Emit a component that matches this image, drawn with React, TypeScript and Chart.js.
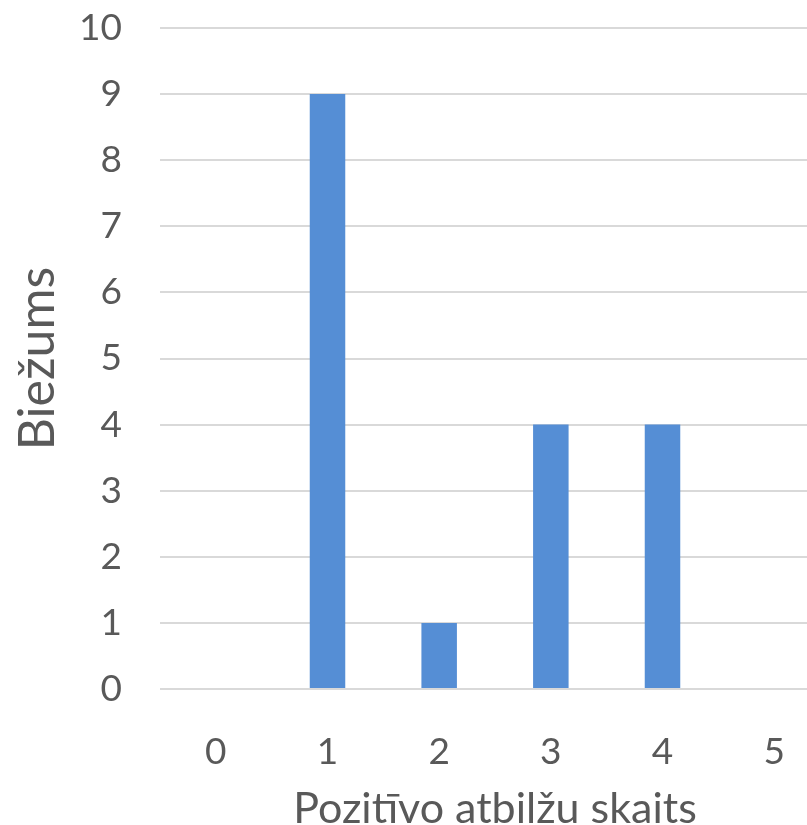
import React, { useEffect, useRef } from "react";
import { Chart, registerables } from "chart.js";

Chart.register(...registerables);

const categories = ["0", "1", "2", "3", "4", "5"];
const frequencies = [0, 9, 1, 4, 4, 0];
const yTitle = "Biežums";
const xTitle = "Pozitīvo atbilžu skaits";

const TEXT = "#595959";
const FONT = "Lato";

export default function App() {
  const ref = useRef<HTMLCanvasElement | null>(null);

  useEffect(() => {
    if (!ref.current) return;
    const chart = new Chart(ref.current, {
      type: "bar",
      data: {
        labels: categories,
        datasets: [
          {
            data: frequencies,
            backgroundColor: "#558ED5",
            borderWidth: 0,
            categoryPercentage: 1,
            barPercentage: 0.318,
          },
        ],
      },
      options: {
        responsive: false,
        animation: false,
        layout: { padding: { top: 28, left: 0, right: 0, bottom: 0 } },
        plugins: { legend: { display: false }, tooltip: { enabled: false } },
        scales: {
          x: {
            grid: { display: false },
            border: { display: false },
            ticks: {
              color: TEXT,
              font: { family: FONT, size: 37 },
              padding: 33,
              maxRotation: 0,
            },
            title: {
              display: true,
              text: xTitle,
              color: TEXT,
              font: { family: FONT, size: 43, lineHeight: 0.72 },
              padding: { top: 0, bottom: 0 },
            },
            afterFit: (s: any) => {
              s.height = 136;
              s.paddingLeft = 0;
              s.paddingRight = 0;
            },
          },
          y: {
            min: 0,
            max: 10,
            grid: { color: "#D9D9D9", lineWidth: 2, drawTicks: false },
            border: { display: false },
            ticks: {
              stepSize: 1,
              color: TEXT,
              font: { family: FONT, size: 37 },
              padding: 38,
            },
            title: {
              display: true,
              text: yTitle,
              color: TEXT,
              font: { family: FONT, size: 50, lineHeight: 1.2 },
              padding: { top: 8, bottom: 0 },
            },
            afterFit: (s: any) => {
              s.width = 160;
              s.paddingTop = 0;
              s.paddingBottom = 0;
            },
          },
        },
      },
    });
    return () => chart.destroy();
  }, []);

  return (
    <div
      style={{
        position: "absolute",
        left: 0,
        top: 0,
        width: 807,
        height: 825,
        overflow: "hidden",
        background: "#fff",
      }}
    >
      <canvas
        ref={ref}
        width={830}
        height={825}
        style={{ display: "block" }}
      />
    </div>
  );
}
